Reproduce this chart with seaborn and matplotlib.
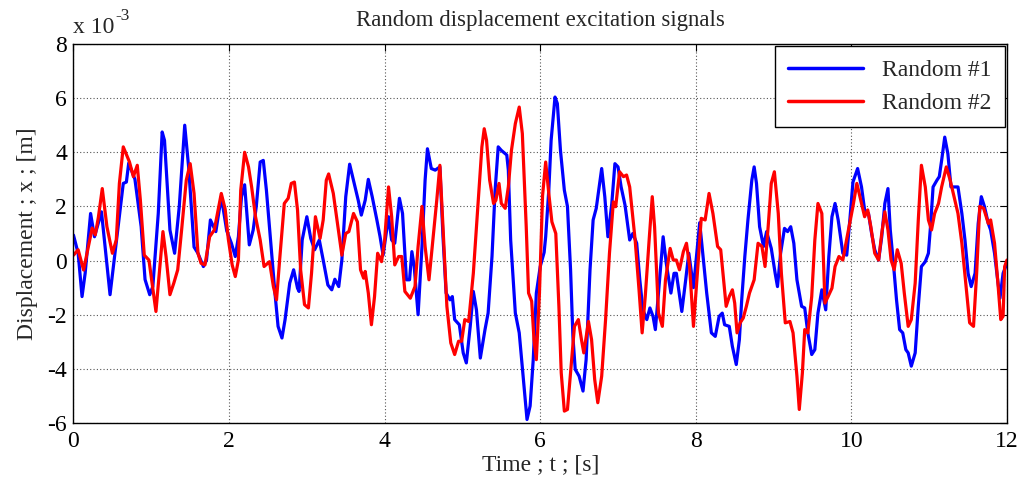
import numpy as np
import pandas as pd
import matplotlib
matplotlib.use("Agg")
import matplotlib.pyplot as plt
import seaborn as sns

# ---- data (displacement in units of 1e-3 m) ----
t1 = [0.00, 0.06, 0.11, 0.15, 0.22, 0.27, 0.36, 0.47, 0.64, 0.68, 0.71, 0.79, 0.87, 0.92, 0.98,
      1.02, 1.09, 1.14, 1.17, 1.24, 1.30, 1.36, 1.43, 1.48, 1.55, 1.60, 1.67, 1.71, 1.76, 1.83,
      1.90, 1.97, 2.03, 2.08, 2.12, 2.16, 2.20, 2.26, 2.31, 2.35, 2.40, 2.44, 2.48, 2.55, 2.59,
      2.63, 2.68, 2.72, 2.78, 2.83, 2.88, 2.90, 2.94, 3.00, 3.05, 3.10, 3.16, 3.21, 3.27, 3.32,
      3.36, 3.41, 3.45, 3.50, 3.55, 3.62, 3.66, 3.70, 3.75, 3.79, 3.84, 3.90, 3.94, 3.98, 4.05,
      4.09, 4.13, 4.19, 4.23, 4.28, 4.32, 4.35, 4.38, 4.43, 4.48, 4.52, 4.55, 4.60, 4.65, 4.71,
      4.75, 4.79, 4.84, 4.87, 4.90, 4.96, 5.01, 5.05, 5.10, 5.14, 5.18, 5.23, 5.29, 5.33, 5.38,
      5.42, 5.46, 5.50, 5.57, 5.59, 5.62, 5.68, 5.73, 5.78, 5.83, 5.87, 5.91, 5.95, 6.00, 6.05,
      6.07, 6.11, 6.14, 6.19, 6.22, 6.26, 6.31, 6.35, 6.39, 6.42, 6.45, 6.50, 6.55, 6.59, 6.64,
      6.68, 6.72, 6.79, 6.83, 6.87, 6.92, 6.96, 7.00, 7.04, 7.09, 7.15, 7.19, 7.24, 7.28, 7.32,
      7.37, 7.41, 7.45, 7.48, 7.52, 7.58, 7.62, 7.68, 7.72, 7.75, 7.82, 7.87, 7.91, 7.97, 8.05,
      8.14, 8.20, 8.25, 8.30, 8.34, 8.37, 8.43, 8.47, 8.52, 8.56, 8.59, 8.63, 8.67, 8.72, 8.75,
      8.78, 8.82, 8.87, 8.91, 8.97, 9.02, 9.05, 9.09, 9.14, 9.18, 9.22, 9.26, 9.30, 9.36, 9.40,
      9.44, 9.49, 9.53, 9.57, 9.62, 9.67, 9.71, 9.75, 9.79, 9.83, 9.89, 9.94, 9.98, 10.02, 10.08,
      10.13, 10.17, 10.22, 10.26, 10.30, 10.35, 10.39, 10.43, 10.47, 10.50, 10.54, 10.58, 10.62,
      10.66, 10.70, 10.73, 10.77, 10.82, 10.86, 10.90, 10.95, 10.99, 11.02, 11.05, 11.10, 11.13,
      11.16, 11.20, 11.24, 11.28, 11.33, 11.37, 11.42, 11.46, 11.50, 11.54, 11.59, 11.63, 11.67,
      11.71, 11.76, 11.79, 11.84, 11.88, 11.91, 11.95, 12.00]
x1 = [0.94, 0.27, -1.33, -0.47, 1.74, 0.88, 1.8, -1.26, 2.85, 2.9, 3.6, 3.0, 1.25, -0.7, -1.26,
      -0.96, 1.74, 4.75, 4.44, 1.13, 0.27, 2.0, 5.0, 3.46, 0.5, 0.27, -0.22, 0.02, 1.5, 1.07,
      2.36, 1.1, 0.64, 0.15, 0.88, 2.36, 2.8, 0.58, 1.13, 2.0, 3.64, 3.7, 2.6, 0.15, -1.2,
      -2.43, -2.86, -2.18, -0.83, -0.34, -1.02, -1.14, 0.76, 1.62, 0.82, 0.4, 0.76, 0.02, -0.9, -1.08,
      -0.69, -0.96, 0.02, 2.36, 3.56, 2.72, 2.23, 1.68, 2.23, 3.0, 2.36, 1.5, 0.9, 0.2, 1.62,
      0.76, 0.64, 2.3, 1.74, -0.71, -0.71, 0.33, -0.22, -2.0, 0.52, 2.97, 4.13, 3.4, 3.34, 3.46,
      0.88, -1.2, -1.45, -1.33, -2.18, -2.37, -3.41, -3.78, -2.43, -1.14, -1.82, -3.6, -2.55, -1.94, 0.15,
      2.6, 4.2, 4.07, 3.9, 3.34, 0.76, -1.94, -2.67, -4.27, -5.87, -5.37, -3.66, -1.2, -0.22, 0.3,
      0.88, 2.6, 4.44, 6.04, 5.8, 4.07, 2.6, 2.0, -0.34, -2.8, -4.02, -4.27, -4.82, -3.66, -0.34,
      1.5, 1.93, 3.4, 2.36, 0.88, 2.11, 3.58, 3.46, 2.72, 2.05, 0.76, 1.0, 0.64, -0.71, -1.82,
      -2.18, -1.75, -2.06, -2.55, -1.2, 0.88, -0.1, -1.2, -0.47, -0.47, -1.88, -0.71, 0.27, -1.0, 1.4,
      -1.2, -2.67, -2.8, -2.06, -1.94, -2.37, -2.43, -3.17, -3.84, -2.92, -1.45, 0.15, 1.5, 2.97, 3.46,
      2.85, 1.25, 0.52, 1.07, 0.45, -0.47, -0.96, 0.27, 1.19, 1.07, 1.25, 0.64, -0.71, -1.69, -1.75,
      -2.67, -3.47, -3.29, -1.94, -1.08, -1.82, 0.15, 1.62, 2.11, 1.5, 0.27, 0.2, 1.5, 2.9, 3.4,
      2.72, 1.87, 1.74, 1.0, 0.4, 0.02, 0.88, 2.11, 2.66, 1.13, -0.1, -1.45, -2.55,
      -2.67, -3.29, -3.41, -3.9, -3.41, -1.69, -0.22, -0.04, 0.27, 1.37, 2.72, 2.97, 3.1,
      3.7, 4.56, 3.95, 2.72, 2.72, 2.72, 1.74, 0.76, -0.47, -0.96, -0.47, 1.37, 2.36,
      2.0, 1.37, 1.13, 0.27, -0.71, -1.39, -0.47, -0.1]

t2 = [0.00, 0.06, 0.13, 0.19, 0.24, 0.28, 0.32, 0.37, 0.43, 0.50, 0.55, 0.59, 0.64, 0.72, 0.77,
      0.82, 0.86, 0.91, 0.97, 1.01, 1.06, 1.11, 1.15, 1.19, 1.24, 1.29, 1.34, 1.39, 1.45, 1.50,
      1.55, 1.60, 1.64, 1.69, 1.75, 1.81, 1.90, 1.95, 1.99, 2.04, 2.08, 2.12, 2.15, 2.20, 2.25,
      2.29, 2.34, 2.40, 2.45, 2.52, 2.57, 2.61, 2.65, 2.71, 2.76, 2.80, 2.84, 2.88, 2.92, 2.97,
      3.02, 3.06, 3.11, 3.17, 3.21, 3.25, 3.28, 3.34, 3.40, 3.45, 3.50, 3.54, 3.60, 3.65, 3.69,
      3.73, 3.75, 3.79, 3.83, 3.87, 3.91, 3.96, 4.00, 4.05, 4.09, 4.13, 4.18, 4.22, 4.26, 4.33,
      4.39, 4.43, 4.48, 4.52, 4.57, 4.63, 4.67, 4.71, 4.75, 4.80, 4.85, 4.90, 4.95, 4.99, 5.03,
      5.08, 5.14, 5.20, 5.25, 5.28, 5.31, 5.35, 5.40, 5.43, 5.47, 5.50, 5.55, 5.59, 5.63, 5.68,
      5.73, 5.77, 5.82, 5.85, 5.89, 5.92, 5.95, 5.99, 6.03, 6.07, 6.11, 6.15, 6.20, 6.24, 6.27,
      6.31, 6.35, 6.39, 6.44, 6.49, 6.53, 6.56, 6.62, 6.66, 6.70, 6.74, 6.79, 6.84, 6.89, 6.94,
      6.97, 7.02, 7.07, 7.11, 7.15, 7.22, 7.27, 7.31, 7.35, 7.40, 7.44, 7.47, 7.52, 7.57, 7.61,
      7.67, 7.71, 7.75, 7.79, 7.84, 7.88, 7.92, 7.97, 8.02, 8.07, 8.12, 8.17, 8.22, 8.28, 8.32,
      8.39, 8.43, 8.47, 8.50, 8.53, 8.57, 8.61, 8.65, 8.69, 8.75, 8.80, 8.85, 8.89, 8.93, 8.97,
      9.01, 9.06, 9.10, 9.15, 9.21, 9.25, 9.30, 9.33, 9.37, 9.40, 9.44, 9.49, 9.53, 9.57, 9.62,
      9.66, 9.70, 9.75, 9.79, 9.84, 9.89, 9.94, 9.98, 10.02, 10.07, 10.11, 10.17, 10.21, 10.25,
      10.30, 10.35, 10.39, 10.43, 10.47, 10.51, 10.55, 10.59, 10.64, 10.68, 10.73, 10.77, 10.82,
      10.86, 10.90, 10.95, 10.99, 11.03, 11.07, 11.12, 11.16, 11.22, 11.27, 11.32, 11.37, 11.42,
      11.47, 11.52, 11.57, 11.61, 11.65, 11.70, 11.76, 11.79, 11.84, 11.88, 11.92, 11.95, 11.97, 12.00]
x2 = [0.2, 0.4, -0.35, 0.5, 1.2, 0.95, 1.6, 2.66, 1.25, 0.27, 0.76, 2.85, 4.2, 3.64, 3.1,
      3.52, 2.23, 0.2, 0.02, -0.83, -1.88, -0.22, 1.07, 0.15, -1.26, -0.83, -0.34, 1.13, 2.97, 3.58,
      2.48, 0.27, -0.1, -0.16, 0.88, 1.13, 2.48, 1.9, 0.8, -0.16, -0.59, 0.02, 2.6, 4.0, 3.46,
      2.72, 1.62, 0.76, -0.22, -0.04, -0.96, -1.45, 0.02, 2.11, 2.3, 2.85, 2.9, 1.87, -0.34, -1.63,
      -1.75, -0.47, 1.62, 0.82, 1.5, 2.97, 3.2, 2.48, 1.25, 0.2, 1.0, 1.07, 1.74, 1.43, -0.34,
      -0.65, -0.4, -1.2, -2.37, -1.33, 0.27, -0.04, 0.76, 2.72, 1.62, -0.16, 0.15, 0.15, -1.14, -1.39,
      -0.96, 0.52, 2.0, 0.52, -0.71, 1.07, 2.23, 3.52, 1.25, -1.69, -3.04, -3.47, -2.98, -2.98, -2.18,
      -2.25, -0.47, 2.11, 4.2, 4.87, 4.44, 2.97, 2.11, 2.23, 2.85, 2.11, 1.93, 2.72, 4.07, 5.06,
      5.67, 4.69, 1.25, -1.2, -1.5, -2.92, -3.66, -1.2, 2.4, 3.64, 2.48, 1.43, 1.0, -1.69, -4.15,
      -5.56, -5.5, -4.15, -2.43, -2.18, -2.92, -3.41, -2.25, -2.92, -4.39, -5.25, -4.27, -2.18, 0.27, 2.17,
      1.99, 3.28, 3.1, 3.16, 2.72, 0.76, -1.08, -2.67, -1.33, 0.76, 2.36, 1.25, -1.94, -2.43, -0.71,
      0.45, 0.02, 0.02, -0.34, 0.33, 0.64, -0.22, -2.43, -0.47, 1.56, 1.5, 2.48, 1.74, 0.52, 0.4,
      -1.69, -1.33, -1.08, -1.57, -2.67, -2.3, -2.12, -1.69, -1.2, -0.71, 0.64, 0.52, -0.22, 1.25, 2.85,
      3.28, 1.74, -0.47, -2.3, -2.25, -2.67, -4.27, -5.5, -4.15, -2.55, -2.67, -1.33, 0.76, 2.11, 1.74,
      -1.57, -1.33, -1.02, -0.22, 0.15, 0.02, 0.8, 1.4, 2.0, 2.85, 2.36, 1.62, 1.87, 1.25,
      0.27, 0.02, 1.0, 1.8, 1.13, 0.02, -0.34, 0.4, -0.1, -1.2, -2.43, -2.18, -0.83,
      1.5, 3.52, 2.72, 1.5, 1.13, 1.74, 2.11, 2.72, 3.46, 2.97, 2.36, 1.74, 0.64,
      -0.83, -2.3, -2.43, -0.47, 2.0, 1.93, 1.37, 1.5, 0.64, -0.71, -2.18, -2.06, -0.22, 0.02]

series_names = ["Random #1", "Random #2"]
series_colors = ["#0000ff", "#ff0000"]
x_ticks = [0, 2, 4, 6, 8, 10, 12]
y_ticks = [-6, -4, -2, 0, 2, 4, 6, 8]

df = pd.concat([
    pd.DataFrame({"t": t1, "x": x1, "signal": series_names[0]}),
    pd.DataFrame({"t": t2, "x": x2, "signal": series_names[1]}),
], ignore_index=True)

sns.set_style("white")
plt.rcParams["font.family"] = ["Liberation Serif", "DejaVu Serif"]

FS = 17

fig = plt.figure(figsize=(10.22, 4.92), dpi=100)
ax = fig.add_axes([0.0719, 0.1402, 0.9134, 0.7704])

sns.lineplot(data=df, x="t", y="x", hue="signal", palette=series_colors,
             estimator=None, sort=False, linewidth=2.3, ax=ax, legend=True)

ax.set_xlim(0, 12)
ax.set_ylim(-6, 8)
ax.set_xticks(x_ticks)
ax.set_yticks(y_ticks)
ax.set_xticklabels([str(v) for v in x_ticks], fontsize=FS)
ax.set_yticklabels([str(v) for v in y_ticks], fontsize=FS)
ax.tick_params(direction="in", top=True, right=True, length=5, width=0.8, colors="black")
ax.tick_params(axis="x", pad=6)
ax.tick_params(axis="y", pad=4.5)
ax.grid(True, color="#555555", linestyle=(0, (1, 2)), linewidth=0.8)
for s in ax.spines.values():
    s.set_color("black")
    s.set_linewidth(1.0)

ax.set_title("Random displacement excitation signals", fontsize=16.5, pad=13)
ax.set_xlabel("Time ; t ; [s]", fontsize=FS, labelpad=1)
ax.set_ylabel("Displacement ; x ; [m]", fontsize=FS, labelpad=7)
# multiplier label "x 10^-3" above the y axis
ax.text(0.0, 1.03, "x 10", transform=ax.transAxes, fontsize=FS, ha="left", va="baseline")
ax.text(0.045, 1.063, "-3", transform=ax.transAxes, fontsize=12.5, ha="left", va="baseline")

leg = ax.legend(loc="upper right", fontsize=FS, frameon=True, fancybox=False,
                edgecolor="black", framealpha=1, handlelength=3.2,
                borderaxespad=0.1, labelspacing=0.5, borderpad=0.55, handletextpad=0.8)
leg.get_frame().set_linewidth(1.0)
for line in leg.get_lines():
    line.set_linewidth(2.5)

fig.savefig("out.png", dpi=100)
